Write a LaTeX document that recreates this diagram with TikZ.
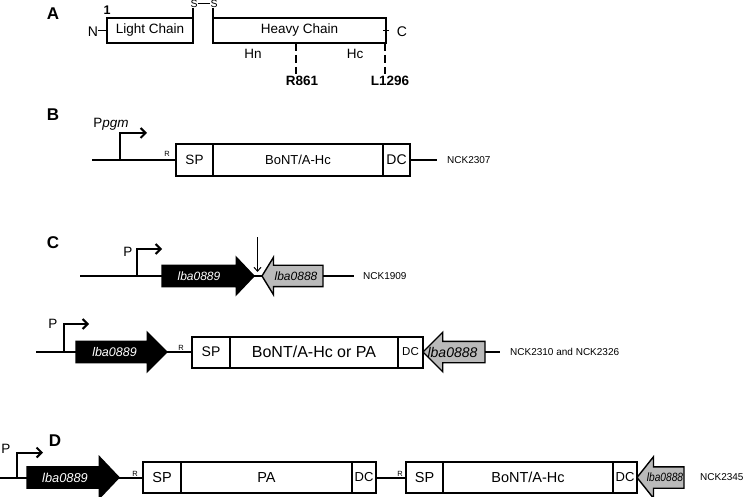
\documentclass[tikz,border=0pt]{standalone}
\usepackage{fontspec}
\usepackage{graphicx}
\setmainfont{Liberation Sans}
\usetikzlibrary{arrows.meta,positioning,shapes.arrows}
\newcommand{\fs}[1]{\fontsize{#1}{#1}\selectfont}

\tikzset{
  panel/.style={font=\fs{17}\bfseries, anchor=base, inner sep=0pt},
  txt/.style={font=\fs{13.5}, anchor=base, inner sep=0pt},
  site/.style={font=\fs{13.5}\bfseries, anchor=base, inner sep=0pt},
  rsite/.style={font=\fs{7.5}, anchor=base, inner sep=0pt},
  strain/.style={font=\fs{10}, anchor=west, inner sep=0pt},
  chain/.style={draw, line width=2pt, minimum height=25pt, inner sep=0pt, outer sep=0pt, font=\fs{13.5}},
  part/.style={draw, line width=2pt, fill=white, inner sep=0pt, outer sep=0pt},
  dna/.style={line width=2pt},
  prom/.style={line width=2pt, -{Straight Barb[length=5pt, width=10pt]}},
  cutline/.style={line width=2pt, dash pattern=on 8pt off 4pt},
  gene/.style={single arrow, draw, line width=1.4pt, inner xsep=0pt, inner ysep=10pt, outer sep=0pt, single arrow head indent=0pt},
  fwd/.style={gene, fill=black, anchor=tail},
  rev/.style={gene, fill=black!27, shape border rotate=180, anchor=tip},
  genetxt/.style={font=\fs{12}\itshape, inner sep=0pt},
}

\begin{document}
\begin{tikzpicture}[x=1pt, y=-1pt]
  \useasboundingbox (0,0) rectangle (750,497);

  % A: toxin domains
  \node[panel] (pA) at (53,20) {A};
  \node[chain, minimum width=86pt] (light) at (150,30.5) {Light Chain};
  \node[chain, minimum width=173pt] (heavy) at (299.5,30.5) {Heavy Chain};
  \node[site, font=\fs{12.5}\bfseries] (first) at (107,15) {1};
  \node[txt, font=\fs{14}] (nterm) at (93,37) {N};
  \node[txt, font=\fs{14}] (cterm) at (402,37) {C};
  \draw[line width=1.4pt] (light.west) -- (light.west -| nterm.east);
  \draw[line width=1.4pt] ([xshift=-3pt]heavy.east) -- ([xshift=3pt]heavy.east);
  \node[txt, font=\fs{10.5}] (sl) at (194,7.5) {S};
  \node[txt, font=\fs{10.5}] (sr) at (214,7.5) {S};
  \draw[line width=1.2pt] (light.north east) -- ++(0,-10);
  \draw[line width=1.2pt] (heavy.north west) -- ++(0,-10);
  \draw[line width=1.2pt] (sl.east) -- (sr.west);
  \node[txt] (hn) at (253,59) {Hn};
  \node[txt] (hcdom) at (355,59) {Hc};
  \node[site] (r861) at (302,86) {R861};
  \node[site] (l1296) at (390,86) {L1296};
  \coordinate (hsplit) at (296,43);
  \coordinate (hend) at (385,43);
  \draw[cutline] (hsplit) -- ++(0,31);
  \draw[cutline] (hend) -- ++(0,31);

  % B: NCK2307
  \node[panel] (pB) at (53,121) {B};
  \node[part, minimum width=37pt, minimum height=32pt, anchor=west, font=\fs{13.5}] (bsp) at (176,160) {SP};
  \node[part, minimum width=170pt, minimum height=32pt, right=0pt of bsp, font=\fs{13}] (bmid) {BoNT/A-Hc};
  \node[part, minimum width=27pt, minimum height=32pt, right=0pt of bmid, font=\fs{14}] (bdc) {DC};
  \coordinate (bstart) at (92,160);
  \coordinate (bprom) at (120,160);
  \node[strain] (nck2307) at (447,160) {NCK2307};
  \draw[dna] (bstart) -- (bsp.west);
  \draw[dna] (bdc.east) -- ++(27,0);
  \draw[prom] (bprom) |- ++(27,-27);
  \node[txt] (ppgm) at (111,128) {P\textit{pgm}};
  \node[rsite] (rb) at (167,157) {R};

  % C: NCK1909
  \node[panel] (pC) at (53,249) {C};
  \coordinate (c1start) at (80,276);
  \coordinate (c1prom) at (137,276);
  \node[fwd, minimum height=92pt, single arrow head extend=8pt, single arrow tip angle=93] (c1g89) at (162,276) {};
  \node[rev, minimum height=61pt, single arrow head extend=8pt, single arrow tip angle=117] (c1g88) at (262,276) {};
  \node[strain] (nck1909) at (363,276) {NCK1909};
  \draw[dna] (c1start) -- (c1g89.tail);
  \draw[dna] (c1g89.tip) -- (c1g88.tip);
  \draw[dna] (c1g88.tail) -- ++(31,0);
  \draw[prom] (c1prom) |- ++(25,-27);
  \node[txt] (c1p) at (128,257) {P};
  \node[genetxt, text=white] (c1t89) at (199,276) {lba0889};
  \node[genetxt] (c1t88) at (296,276) {lba0888};
  \coordinate (cut) at (257.5,272);
  \draw[line width=1pt, {Straight Barb[length=4pt, width=7pt]}-] (cut) -- ++(0,-35);

  % C: NCK2310 and NCK2326
  \coordinate (c2start) at (36,352);
  \coordinate (c2prom) at (64,352);
  \node[fwd, minimum height=91pt, single arrow head extend=9pt, single arrow tip angle=90] (c2g89) at (76,352) {};
  \node[part, minimum width=38pt, minimum height=31pt, anchor=west, font=\fs{14}] (c2sp) at (192,352) {SP};
  \node[part, minimum width=168pt, minimum height=31pt, right=0pt of c2sp, font=\fs{16}] (c2mid) {BoNT/A-Hc or PA};
  \node[part, minimum width=25pt, minimum height=31pt, right=0pt of c2mid, font=\fs{11.5}] (c2dc) {DC};
  \node[rev, minimum height=62pt, single arrow head extend=9pt, single arrow tip angle=90] (c2g88) at (c2dc.east) {};
  \node[strain] (nck2310) at (510,352) {NCK2310 and NCK2326};
  \draw[dna] (c2start) -- (c2g89.tail);
  \draw[dna] (c2g89.tip) -- (c2sp.west);
  \draw[dna] (c2g88.tail) -- ++(15,0);
  \draw[prom] (c2prom) |- ++(25,-28);
  \node[txt] (c2p) at (53,328) {P};
  \node[rsite] (c2r) at (181,350) {R};
  \node[genetxt, font=\fs{12.5}\itshape, text=white] (c2t89) at (114.5,352) {lba0889};
  \node[genetxt, font=\fs{14}\itshape] (c2t88) at (452.5,352) {lba0888};

  % D: NCK2345
  \node[panel] (pD) at (55,446) {D};
  \coordinate (dstart) at (0,477.5);
  \coordinate (dprom) at (17,477.5);
  \node[fwd, minimum height=92pt, single arrow head extend=10pt, single arrow tip angle=93] (dg89) at (27,477.5) {};
  \node[part, minimum width=38pt, minimum height=31pt, anchor=west, font=\fs{14.5}] (d1sp) at (143,477.5) {SP};
  \node[part, minimum width=171pt, minimum height=31pt, right=0pt of d1sp, font=\fs{14.5}] (d1mid) {PA};
  \node[part, minimum width=24pt, minimum height=31pt, right=0pt of d1mid, font=\fs{13}] (d1dc) {DC};
  \node[part, minimum width=37pt, minimum height=31pt, anchor=west, font=\fs{14.5}] (d2sp) at (406,477.5) {SP};
  \node[part, minimum width=170pt, minimum height=31pt, right=0pt of d2sp, font=\fs{14.5}] (d2mid) {BoNT/A-Hc};
  \node[part, minimum width=24pt, minimum height=31pt, right=0pt of d2mid, font=\fs{13}] (d2dc) {DC};
  \node[rev, minimum height=47pt, single arrow head extend=10pt, single arrow tip angle=103] (dg88) at (d2dc.east) {};
  \node[strain] (nck2345) at (700,477.5) {NCK2345};
  \draw[dna] (dstart) -- (dg89.tail);
  \draw[dna] (dg89.tip) -- (d1sp.west);
  \draw[dna] (d1dc.east) -- (d2sp.west);
  \draw[prom] (dprom) |- ++(26,-25);
  \node[txt] (dp) at (6,453) {P};
  \node[rsite] (d1r) at (135,476) {R};
  \node[rsite] (d2r) at (400,476) {R};
  \node[genetxt, font=\fs{12.8}\itshape, text=white] (dt89) at (65,477.5) {lba0889};
  \node[genetxt] (dt88) at (665,477.5) {\scalebox{0.85}[1]{lba0888}};
\end{tikzpicture}
\end{document}
